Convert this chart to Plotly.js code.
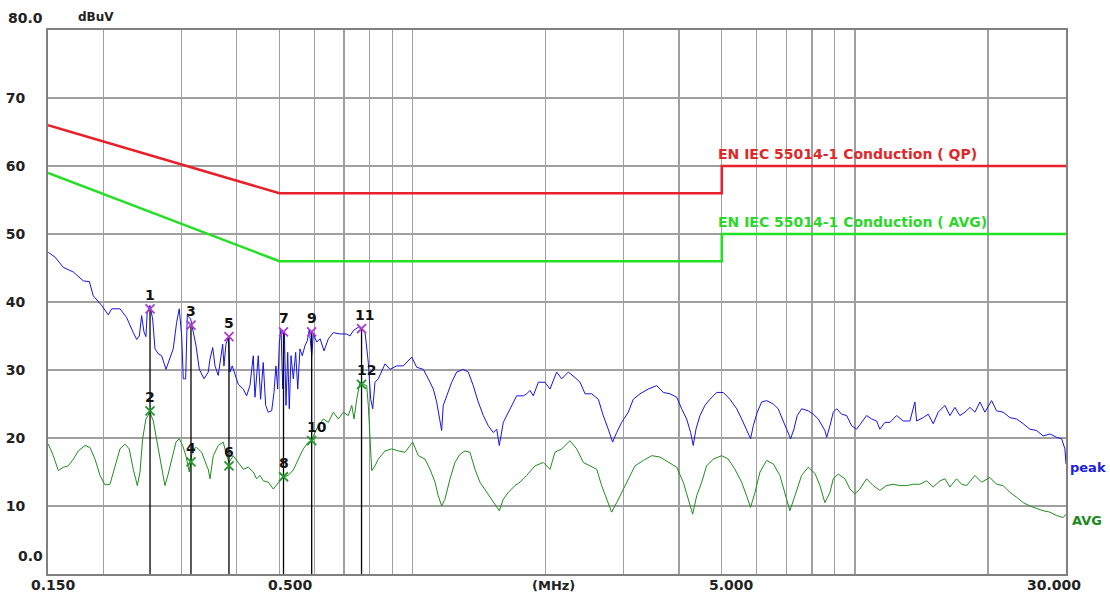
<!DOCTYPE html>
<html>
<head>
<meta charset="utf-8">
<script src="https://cdn.plot.ly/plotly-3.0.1.min.js"></script>
<style>html,body{margin:0;padding:0;background:#fff;}#chart{width:1110px;height:597px;}</style>
</head>
<body>
<div id="chart"></div>
<script>
// ---------- data (MHz, dBuV) ----------
const peakFreq = [0.1502,0.1556,0.1624,0.1712,0.1803,0.1860,0.1899,0.1983,0.2053,0.2089,0.2182,0.2259,0.2338,0.2380,0.2413,0.2442,0.2472,0.2497,0.2514,0.2550,0.2586,0.2618,0.2662,0.2710,0.2772,0.2819,0.2878,0.2930,0.2970,0.3008,0.3033,0.3071,0.3097,0.3152,0.3195,0.3240,0.3297,0.3379,0.3454,0.3485,0.3535,0.3578,0.3639,0.3685,0.3723,0.3748,0.3788,0.3834,0.3868,0.3914,0.3969,0.4037,0.4144,0.4217,0.4291,0.4366,0.4405,0.4481,0.4536,0.4598,0.4657,0.4720,0.4805,0.4863,0.4913,0.4958,0.5000,0.5045,0.5089,0.5132,0.5177,0.5223,0.5266,0.5314,0.5378,0.5444,0.5503,0.5567,0.5635,0.5715,0.5785,0.5845,0.5918,0.5969,0.6076,0.6181,0.6310,0.6453,0.6624,0.6857,0.7100,0.7222,0.7350,0.7543,0.7676,0.7812,0.7945,0.8046,0.8130,0.8226,0.8369,0.8519,0.8667,0.8898,0.9210,0.9535,0.9958,1.0221,1.0577,1.0858,1.1144,1.1340,1.1536,1.1638,1.1735,1.1950,1.2264,1.2585,1.3027,1.3367,1.3719,1.4080,1.4455,1.4837,1.5229,1.5500,1.5711,1.6042,1.6612,1.7196,1.7805,1.8122,1.8433,1.8751,1.9249,1.9927,2.0455,2.1176,2.1739,2.2500,2.3290,2.3913,2.4550,2.5408,2.6300,2.6986,2.7697,2.8337,2.8940,2.9705,3.0743,3.1553,3.2673,3.4124,3.5646,3.6892,3.8198,3.9545,4.0587,4.1652,4.2526,4.3107,4.3726,4.4644,4.5809,4.7028,4.8706,5.0393,5.2174,5.4043,5.5460,5.6903,5.8102,5.8925,6.0156,6.1556,6.3154,6.5374,6.7080,6.8854,7.0658,7.1547,7.2803,7.4057,7.5785,7.8433,8.0501,8.2629,8.5533,8.6337,8.7819,8.9348,9.0941,9.3322,9.5796,9.8317,10.089,10.355,10.627,10.909,11.197,11.387,11.688,12.0,12.422,12.859,13.315,13.663,13.784,14.266,14.645,15.031,15.428,15.975,16.397,16.824,17.267,17.731,18.198,18.675,19.169,19.673,20.368,20.902,21.63,22.404,23.192,24.01,24.857,25.745,26.637,27.576,28.566,29.32,29.83,30.0];
const peakVal = [47.3,46.6,45.1,44.4,43.1,43.0,40.9,39.5,38.1,39.0,39.0,37.7,35.5,34.5,35.0,38.0,35.6,34.9,38.5,39.5,37.5,33.1,32.4,32.1,30.1,31.4,33.1,37.0,39.0,35.0,28.7,28.7,38.0,37.5,35.5,33.6,30.1,28.7,29.7,31.6,33.3,30.6,29.2,32.1,33.8,30.6,33.8,34.8,29.7,30.6,29.2,27.9,27.2,26.2,27.7,32.1,26.0,32.1,25.7,31.1,24.8,23.8,24.0,26.7,30.6,27.2,34.1,36.0,27.2,35.5,24.8,32.6,24.3,32.1,28.7,32.6,27.2,33.1,32.1,33.6,34.3,36.0,32.1,35.3,34.1,34.6,32.8,34.6,35.5,35.3,35.3,35.0,35.8,36.3,36.0,35.5,31.1,25.7,24.3,28.2,28.7,29.7,30.9,30.1,30.6,30.6,31.9,30.4,30.1,28.7,27.2,25.3,22.8,21.1,24.8,26.2,28.2,29.7,30.1,29.7,27.7,25.3,23.3,21.8,20.8,21.3,18.9,22.3,24.3,26.2,26.2,26.5,27.0,26.2,28.2,28.2,27.2,29.7,28.7,29.7,28.9,28.2,26.5,26.5,25.7,23.3,21.3,19.4,20.8,22.3,23.8,25.7,26.5,27.2,27.7,26.7,26.5,26.0,24.3,22.8,20.8,18.9,21.3,23.3,24.8,25.7,26.7,26.7,25.7,24.3,22.8,21.3,19.9,21.8,23.8,25.3,25.5,25.0,24.3,22.5,20.8,19.9,21.3,23.3,24.3,24.0,23.5,22.8,21.1,20.1,21.8,23.8,24.3,23.5,23.3,21.8,21.3,22.3,23.3,22.8,22.5,21.3,22.3,22.3,23.3,22.5,22.5,25.3,22.5,23.0,23.5,22.1,23.8,24.8,23.3,24.5,23.3,23.8,24.5,23.8,25.3,23.8,25.5,24.0,23.8,23.0,22.8,22.1,21.3,21.1,20.3,20.6,20.1,19.9,18.4,16.2];

const avgFreq = [0.1502,0.1542,0.1583,0.1624,0.1667,0.1712,0.1756,0.1819,0.1866,0.1916,0.1966,0.2018,0.2071,0.2126,0.2182,0.2239,0.2289,0.2338,0.2388,0.2421,0.2455,0.2497,0.2550,0.2595,0.2640,0.2696,0.2757,0.2804,0.2854,0.2920,0.2970,0.3023,0.3075,0.3129,0.3152,0.3185,0.3252,0.3338,0.3427,0.3454,0.3485,0.3546,0.3639,0.3734,0.3802,0.3848,0.3934,0.4037,0.4144,0.4254,0.4366,0.4443,0.4521,0.4598,0.4720,0.4845,0.4887,0.4974,0.5105,0.5239,0.5378,0.5520,0.5665,0.5815,0.5918,0.5969,0.6125,0.6287,0.6453,0.6624,0.6797,0.6975,0.7159,0.7289,0.7377,0.7481,0.7608,0.7740,0.7879,0.7945,0.8017,0.8088,0.8226,0.8369,0.8667,0.8977,0.9287,0.9620,1.0010,1.0309,1.0672,1.0954,1.1243,1.1434,1.1638,1.184,1.2157,1.2474,1.2805,1.3143,1.3486,1.3841,1.4206,1.4713,1.5229,1.5711,1.6042,1.6466,1.7044,1.75,1.8122,1.8433,1.8921,1.9752,2.0455,2.0989,2.1739,2.2691,2.3500,2.4329,2.5183,2.6081,2.6763,2.7469,2.8191,2.894,2.9953,3.0743,3.1834,3.3256,3.4737,3.6264,3.7862,3.9545,4.0928,4.2,4.2985,4.3886,4.5049,4.6216,4.7851,5.0,5.1718,5.3555,5.546,5.6903,5.8102,5.9441,6.1010,6.3154,6.5374,6.7676,6.9458,7.1290,7.3187,7.5785,7.8433,8.1223,8.3363,8.5533,8.7819,8.9348,9.1687,9.4950,9.7449,10.0,10.264,10.627,11.0,11.387,11.792,12.207,12.638,13.088,13.542,14.022,14.523,15.031,15.565,15.975,16.397,16.973,17.427,17.888,18.675,19.339,20.188,20.902,21.63,22.404,23.192,24.01,24.857,25.745,26.637,27.576,28.566,29.57,30.0];
const avgVal = [19.1,17.4,15.2,15.7,15.9,16.9,18.1,18.9,18.6,16.9,14.5,13.1,13.2,15.9,18.4,19.1,18.4,15.4,13.0,15.0,19.9,22.8,23.8,22.5,19.9,16.9,13.0,14.7,16.9,19.4,19.9,18.9,17.4,15.0,16.5,18.4,18.6,17.9,15.9,15.4,14.0,17.4,18.9,19.4,17.4,16.4,17.4,16.4,15.4,15.7,15.0,14.0,14.5,13.7,13.5,12.5,12.8,13.5,14.3,14.5,15.3,16.9,18.4,19.4,19.6,20.3,21.8,22.8,22.3,23.8,22.8,23.8,23.3,24.8,22.8,25.7,28.2,27.9,27.7,24.8,19.9,15.2,15.9,16.9,18.1,18.4,18.1,17.9,19.4,17.4,16.9,15.4,13.5,11.5,10.0,11.0,14.0,16.4,17.6,18.1,17.9,15.4,13.5,12.0,10.5,9.3,11.0,12.0,13.0,13.5,14.5,15.0,15.9,16.4,15.4,17.9,18.4,19.6,18.4,16.4,15.9,15.4,13.0,11.0,9.1,10.5,12.5,14.0,15.9,16.7,17.4,17.2,16.4,15.7,13.5,11.0,8.8,11.5,13.5,15.9,16.9,17.4,16.9,15.4,13.5,11.5,9.8,12.0,15.0,16.7,16.2,14.5,12.0,9.3,11.5,14.5,15.7,14.8,13.0,10.5,12.0,14.0,14.7,14.0,12.5,11.8,12.5,14.0,13.0,12.3,13.0,13.2,13.0,13.0,13.2,13.2,13.7,12.8,13.7,14.0,12.8,14.0,13.2,13.0,14.5,13.5,14.2,13.2,13.0,12.0,11.3,10.5,10.0,9.6,9.3,9.1,8.6,8.3,8.8];

// limit lines
const limitFreq = [0.15, 0.5, 5, 5, 30];
const qpLimit   = [66, 56, 56, 60, 60];
const avLimit   = [59, 46, 46, 50, 50];

// markers
const peakMarkNo   = ['1','3','5','7','9','11'];
const peakMarkFreq = [0.2551, 0.3157, 0.3847, 0.511, 0.5917, 0.767];
const peakMarkVal  = [39.0, 36.6, 34.9, 35.6, 35.6, 36.1];
const avgMarkNo    = ['2','4','6','8','10','12'];
const avgMarkFreq  = [0.2551, 0.3157, 0.3847, 0.511, 0.5917, 0.767];
const avgMarkVal   = [24.0, 16.5, 15.9, 14.3, 19.6, 27.9];

// axis ticks
const xGrid = [0.2,0.3,0.4,0.5,0.6,0.7,0.8,0.9,1,2,3,4,5,6,7,8,9,10,20];
const yTicks = [10,20,30,40,50,60,70];

// ---------- build ----------
const L = 48, T = 30, W = 1018, H = 544;
const px = v => (v - L) / W;
const py = v => (T + H - v) / H;
const bold = (size, color) => ({family: 'DejaVu Sans, Verdana, sans-serif', size: size, color: color, weight: 'bold'});

const stemX = [], stemY = [];
peakMarkFreq.forEach((f, i) => { stemX.push(f, f, null); stemY.push(0, peakMarkVal[i], null); });

const traces = [
  {x: limitFreq, y: qpLimit, mode: 'lines', line: {color: '#e8202a', width: 2.5}, hoverinfo: 'skip'},
  {x: limitFreq, y: avLimit, mode: 'lines', line: {color: '#22e022', width: 2.5}, hoverinfo: 'skip'},
  {x: avgFreq, y: avgVal, mode: 'lines', line: {color: '#1f8c1f', width: 1}},
  {x: peakFreq, y: peakVal, mode: 'lines', line: {color: '#1414e6', width: 1}},
  {x: stemX, y: stemY, mode: 'lines', line: {color: '#000000', width: 1.3}, connectgaps: false},
  {x: peakMarkFreq, y: peakMarkVal, mode: 'markers', marker: {symbol: 'x-thin', size: 9, line: {color: '#b03ad0', width: 1.8}}},
  {x: avgMarkFreq, y: avgMarkVal, mode: 'markers', marker: {symbol: 'x-thin', size: 9, line: {color: '#1f9a2a', width: 1.8}}}
];

const ann = [];
peakMarkNo.forEach((n, i) => ann.push({x: Math.log10(peakMarkFreq[i]), y: peakMarkVal[i], text: n, showarrow: false,
  yshift: 14, xshift: n.length > 1 ? 3 : 0, font: bold(14, '#111')}));
avgMarkNo.forEach((n, i) => ann.push({x: Math.log10(avgMarkFreq[i]), y: avgMarkVal[i], text: n, showarrow: false,
  yshift: 14, xshift: n.length > 1 ? 5 : 0, font: bold(14, '#111')}));

const fixed = [
  {t: '80.0', x: 25, y: 18, s: 14, c: '#222'},
  {t: 'dBuV', x: 96, y: 17, s: 12, c: '#222'},
  {t: '0.0', x: 30, y: 556, s: 14, c: '#222'},
  {t: '0.150', x: 53, y: 585, s: 14, c: '#222'},
  {t: '0.500', x: 290, y: 585, s: 14, c: '#222'},
  {t: '(MHz)', x: 553, y: 585, s: 13, c: '#222'},
  {t: '5.000', x: 731, y: 585, s: 14, c: '#222'},
  {t: '30.000', x: 1054, y: 585, s: 14, c: '#222'},
  {t: 'peak', x: 1088, y: 467, s: 13, c: '#2020d8'},
  {t: 'AVG', x: 1087, y: 520, s: 13, c: '#1a8a1a'}
];
fixed.forEach(a => ann.push({xref: 'paper', yref: 'paper', x: px(a.x), y: py(a.y), text: a.t, showarrow: false,
  xanchor: 'center', yanchor: 'middle', font: bold(a.s, a.c)}));
ann.push({xref: 'paper', yref: 'paper', x: px(716), y: py(154), text: 'EN IEC 55014-1 Conduction ( QP)', showarrow: false,
  xanchor: 'left', yanchor: 'middle', font: bold(14, '#e02828')});
ann.push({xref: 'paper', yref: 'paper', x: px(716), y: py(222), text: 'EN IEC 55014-1 Conduction ( AVG)', showarrow: false,
  xanchor: 'left', yanchor: 'middle', font: bold(14, '#2ad82a')});

const layout = {
  width: 1110, height: 597,
  margin: {l: L, r: 1110 - L - W, t: T, b: 597 - T - H, pad: 0},
  paper_bgcolor: '#ffffff', plot_bgcolor: '#ffffff',
  showlegend: false,
  xaxis: {type: 'log', range: [Math.log10(0.15), Math.log10(30)], tickvals: xGrid, ticktext: xGrid.map(() => ''),
    showgrid: true, gridcolor: '#a0a0a0', gridwidth: 1.3, ticks: '', zeroline: false,
    showline: true, mirror: true, linecolor: '#808080', linewidth: 2},
  yaxis: {range: [0, 80], tickvals: yTicks, ticktext: yTicks.map(String), showgrid: true, gridcolor: '#a0a0a0', gridwidth: 1.3,
    ticks: '', zeroline: false, showline: true, mirror: true, linecolor: '#808080', linewidth: 2,
    tickfont: bold(14, '#222'), ticklabelstandoff: 18},
  annotations: ann
};

Plotly.newPlot('chart', traces, layout, {staticPlot: true, displayModeBar: false});
</script>
</body>
</html>
